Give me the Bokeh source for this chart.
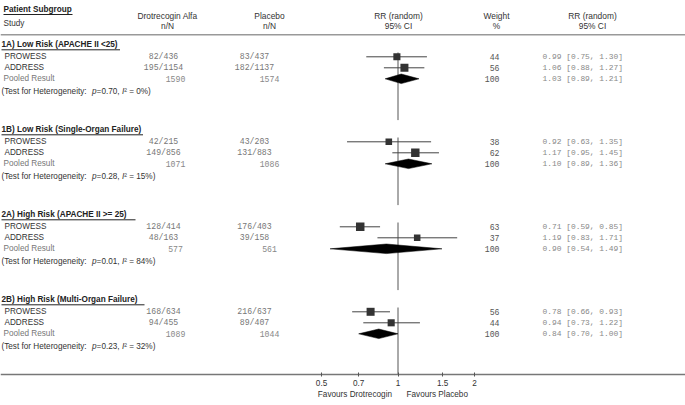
import numpy as np
from bokeh.plotting import figure
from bokeh.models import Range1d, FixedTicker, CustomJSTickFormatter
from bokeh.core.properties import value
from bokeh.embed import file_html
from bokeh.resources import INLINE

# ---------------- data ----------------
groups = ["1A) Low Risk (APACHE II <25)", "1B) Low Risk (Single-Organ Failure)",
          "2A) High Risk (APACHE II >= 25)", "2B) High Risk (Multi-Organ Failure)"]
studies = ["PROWESS", "ADDRESS"]
drot_events = [[82, 195], [42, 149], [128, 48], [168, 94]]
drot_total = [[436, 1154], [215, 856], [414, 163], [634, 455]]
plac_events = [[83, 182], [43, 131], [176, 39], [216, 89]]
plac_total = [[437, 1137], [203, 883], [403, 158], [637, 407]]
pooled_drot = [1590, 1071, 577, 1089]
pooled_plac = [1574, 1086, 561, 1044]
weights = [[44, 56], [38, 62], [63, 37], [56, 44]]
rr = [[0.99, 1.06], [0.92, 1.17], [0.71, 1.19], [0.78, 0.94]]
rr_lo = [[0.75, 0.88], [0.63, 0.95], [0.59, 0.83], [0.66, 0.73]]
rr_hi = [[1.30, 1.27], [1.35, 1.45], [0.85, 1.71], [0.93, 1.22]]
pooled_rr = [1.03, 1.10, 0.90, 0.84]
pooled_lo = [0.89, 0.89, 0.54, 0.70]
pooled_hi = [1.21, 1.36, 1.49, 1.00]
het_p = ["0.70", "0.28", "0.01", "0.23"]
het_i2 = ["0%", "15%", "84%", "32%"]
tick_values = [0.5, 0.7, 1, 1.5, 2]
favours = ["Favours Drotrecogin", "Favours Placebo"]

# ---------------- layout helpers ----------------
X1, K = 397.5, 110.3          # layout px of RR = 1, px per ln unit
def at(px):
    return float(np.exp((px - X1) / K))

SANS = value("Liberation Sans")
MONO = value("Liberation Mono")
AXIS_Y = 374

p = figure(width=685, height=405, output_backend="svg", toolbar_location=None,
           x_axis_type="log", x_range=Range1d(at(0), at(685)), y_range=Range1d(405, 0),
           min_border_left=0, min_border_right=0, min_border_top=0, min_border_bottom=0,
           y_axis_location=None, outline_line_color=None)
p.xgrid.visible = False
p.ygrid.visible = False

ax = p.xaxis[0]
ax.fixed_location = AXIS_Y
ax.ticker = FixedTicker(ticks=tick_values)
ax.formatter = CustomJSTickFormatter(code="return tick.toString()")
ax.axis_line_color = "#777777"
ax.axis_line_width = 1.5
ax.major_tick_line_color = "#555555"
ax.major_tick_out = 2
ax.major_tick_in = 2
ax.minor_tick_line_color = None
ax.major_label_standoff = 3
ax.major_label_text_font = "Liberation Sans"
ax.major_label_text_font_size = "8.2px"
ax.major_label_text_color = "#333333"


def txt(xs, ys, texts, size="8.2px", color="#333333", align="left", font=SANS, style="normal"):
    p.text(x=[at(x) for x in xs], y=ys, text=texts, text_font=font, text_font_size=size,
           text_color=color, text_align=align, text_baseline="middle", text_font_style=style)


# ---------------- header ----------------
txt([3], [9], ["Patient Subgroup"], color="#222222", style="bold")
p.segment(x0=[at(3)], y0=[14], x1=[at(72)], y1=[14], line_color="#222222", line_width=1)
txt([3], [23], ["Study"])
txt([167, 167], [15, 25], ["Drotrecogin Alfa", "n/N"], size="8.4px", align="center")
txt([269, 269], [15, 25], ["Placebo", "n/N"], size="8.4px", align="center")
txt([398, 398], [15, 25], ["RR (random)", "95% CI"], size="8.4px", align="center")
txt([496, 496], [15, 25], ["Weight", "%"], size="8.4px", align="center")
txt([592, 592], [15, 25], ["RR (random)", "95% CI"], size="8.4px", align="center")
p.segment(x0=[at(0)], y0=[34.3], x1=[at(685)], y1=[34.3], line_color="#999999", line_width=1.5)

underline_end = [119.5, 142.5, 135.0, 144.0]

for g in range(4):
    hy = 44.3 + 85 * g
    ys = [hy + 12, hy + 23]
    py = hy + 34
    ty = hy + 46.5

    # group header
    txt([1], [hy], [groups[g]], color="#222222", style="bold")
    p.segment(x0=[at(1)], y0=[hy + 5], x1=[at(underline_end[g])], y1=[hy + 5],
              line_color="#222222", line_width=1)

    # study rows
    txt([4, 4], ys, studies, color="#333333")
    txt([3], [py], ["Pooled Result"], color="#777777")
    txt([163, 163], ys, [f"{e}/{n}" for e, n in zip(drot_events[g], drot_total[g])],
        size="8.2px", color="#777777", align="center", font=MONO)
    txt([254, 254], ys, [f"{e}/{n}" for e, n in zip(plac_events[g], plac_total[g])],
        size="8.2px", color="#777777", align="center", font=MONO)
    txt([175], [py], [str(pooled_drot[g])], size="8.2px", color="#888888", align="center", font=MONO)
    txt([269], [py], [str(pooled_plac[g])], size="8.2px", color="#888888", align="center", font=MONO)

    txt([499, 499, 499], ys + [py], [str(w) for w in weights[g]] + ["100"],
        size="8.2px", color="#555555", align="right", font=MONO)
    ci = [f"{r:.2f} [{l:.2f}, {h:.2f}]" for r, l, h in zip(rr[g], rr_lo[g], rr_hi[g])]
    ci.append(f"{pooled_rr[g]:.2f} [{pooled_lo[g]:.2f}, {pooled_hi[g]:.2f}]")
    txt([542, 542, 542], ys + [py], ci, size="7.9px", color="#888888", align="left", font=MONO)

    # heterogeneity line
    txt([1], [ty], ["(Test for Heterogeneity:"], color="#333333")
    txt([1 + 90.6], [ty], ["p"], color="#333333", style="italic")
    txt([1 + 95.1], [ty], ["=" + het_p[g] + ","], color="#333333")
    txt([1 + 120.4], [ty], ["I"], color="#333333", style="italic")
    txt([1 + 122.7], [ty], ["\u00b2 = " + het_i2[g] + ")"], color="#333333")

    # line of no effect
    y_end = AXIS_Y if g == 3 else hy + 85 - 9.7
    p.segment(x0=[1], y0=[hy + 7.7], x1=[1], y1=[y_end], line_color="#555555", line_width=1)

    # CIs and squares
    p.segment(x0=rr_lo[g], y0=ys, x1=rr_hi[g], y1=ys, line_color="#444444", line_width=1)
    p.scatter(x=rr[g], y=ys, size=[1.07 * np.sqrt(w) for w in weights[g]], marker="square",
              fill_color="#333333", line_color=None)

    # pooled diamond
    p.patches(xs=[[pooled_lo[g], pooled_rr[g], pooled_hi[g], pooled_rr[g]]],
              ys=[[py, py - 4.8, py, py + 4.8]], fill_color="#000000", line_color="#000000",
              line_width=0.5)

# favours labels under the axis
p.text(x=[at(391.5), at(406)], y=[394.3, 394.3], text=favours, text_font=SANS,
       text_font_size="8.2px", text_color="#333333", text_align=["right", "left"],
       text_baseline="middle")

open("out.html", "w").write(file_html(p, INLINE))
